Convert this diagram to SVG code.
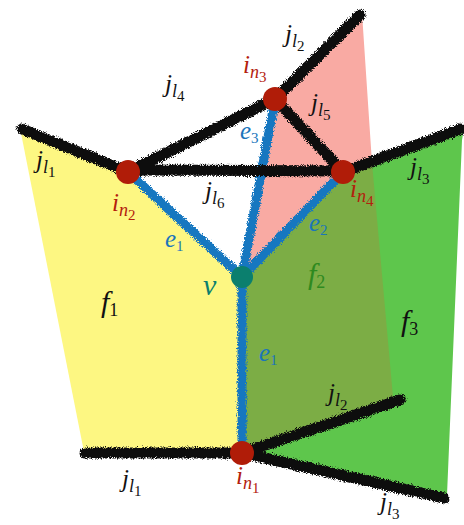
<svg xmlns="http://www.w3.org/2000/svg" width="464" height="525" viewBox="0 0 464 525">
<style>
.t{font-family:"Liberation Serif","DejaVu Serif",serif;font-style:italic;font-size:25px}
.big{font-size:30px}
.s1{font-size:18px}
.s2{font-size:15px;font-style:normal}
.d{font-style:normal}
.k{fill:#111}
.r{fill:#b3200d}
.b{fill:#1a75bb}
.g{fill:#2e8a1f}
.tl{fill:#0b7f6e}
.jl{stroke:#111;stroke-width:11;stroke-linecap:round;fill:none}
.el{stroke:#1677c0;stroke-width:9;stroke-linecap:round;fill:none}
</style>
<defs>
<filter id="rough" filterUnits="userSpaceOnUse" x="0" y="0" width="464" height="525">
<feTurbulence type="fractalNoise" baseFrequency="1.2" numOctaves="2" seed="4"/>
<feDisplacementMap in="SourceGraphic" scale="6" xChannelSelector="R" yChannelSelector="G"/>
</filter>
</defs>
<g id="faces">
<polygon id="f3-face" points="343,172 464,128 462,140 447,495 242,453" fill="#5ec64c"/>
<polygon id="f2-face" points="242,277 343,172 372,163 393,397 242,453" fill="#7cad45"/>
<polygon id="pink-face" points="275,99 362,13 372,163 343,172 242,277" fill="#f9aaa3"/>
<polygon id="f1-face" points="20,128 128,172 242,277 242,453 84,452" fill="#fdf782"/>
</g>
<g id="connectors" filter="url(#rough)">
<line class="el" x1="128" y1="172" x2="242" y2="277"/>
<line class="el" x1="275" y1="99" x2="242" y2="277"/>
<line class="el" x1="343" y1="172" x2="242" y2="277"/>
<line class="el" x1="242" y1="277" x2="242" y2="453"/>
<line class="jl" x1="22" y1="129" x2="128" y2="172"/>
<line class="jl" x1="128" y1="172" x2="275" y2="99"/>
<line class="jl" x1="275" y1="99" x2="360" y2="15"/>
<line class="jl" x1="275" y1="99" x2="343" y2="172"/>
<line class="jl" x1="128" y1="170" x2="343" y2="171"/>
<line class="jl" x1="343" y1="172" x2="461" y2="129"/>
<line class="jl" x1="85" y1="453" x2="242" y2="453"/>
<line class="jl" x1="242" y1="453" x2="400" y2="400"/>
<line class="jl" x1="242" y1="453" x2="444" y2="498"/>
</g>
<g id="n-in2"><circle cx="128" cy="172" r="12" fill="#b01c08"/><text class="t r" x="112" y="211">i<tspan class="s1" dy="5">n</tspan><tspan class="s2" dy="4">2</tspan></text></g>
<g id="n-in3"><circle cx="275" cy="99" r="12" fill="#b01c08"/><text class="t r" x="243" y="73">i<tspan class="s1" dy="5">n</tspan><tspan class="s2" dy="4">3</tspan></text></g>
<g id="n-in4"><circle cx="343" cy="172" r="12" fill="#b01c08"/><text class="t r" x="350" y="197">i<tspan class="s1" dy="5">n</tspan><tspan class="s2" dy="4">4</tspan></text></g>
<g id="n-in1"><circle cx="242" cy="453" r="12" fill="#b01c08"/><text class="t r" x="236" y="484">i<tspan class="s1" dy="5">n</tspan><tspan class="s2" dy="4">1</tspan></text></g>
<g id="n-v"><circle cx="242" cy="277" r="11" fill="#0b7f6e"/><text class="t big tl" x="203" y="295">v</text></g>
<g id="labels">
<text class="t k" x="165" y="92">j<tspan class="s1" dy="5">l</tspan><tspan class="s2" dy="4">4</tspan></text>
<text class="t k" x="285" y="42">j<tspan class="s1" dy="5">l</tspan><tspan class="s2" dy="4">2</tspan></text>
<text class="t k" x="311" y="111">j<tspan class="s1" dy="5">l</tspan><tspan class="s2" dy="4">5</tspan></text>
<text class="t k" x="36" y="168">j<tspan class="s1" dy="5">l</tspan><tspan class="s2" dy="4">1</tspan></text>
<text class="t k" x="205" y="199">j<tspan class="s1" dy="5">l</tspan><tspan class="s2" dy="4">6</tspan></text>
<text class="t k" x="410" y="175">j<tspan class="s1" dy="5">l</tspan><tspan class="s2" dy="4">3</tspan></text>
<text class="t k" x="328" y="401">j<tspan class="s1" dy="5">l</tspan><tspan class="s2" dy="4">2</tspan></text>
<text class="t k" x="122" y="487">j<tspan class="s1" dy="5">l</tspan><tspan class="s2" dy="4">1</tspan></text>
<text class="t k" x="380" y="510">j<tspan class="s1" dy="5">l</tspan><tspan class="s2" dy="4">3</tspan></text>
<text class="t b" x="165" y="247">e<tspan class="s2" dy="4">1</tspan></text>
<text class="t b" x="240" y="139">e<tspan class="s2" dy="4">3</tspan></text>
<text class="t b" x="309" y="231">e<tspan class="s2" dy="4">2</tspan></text>
<text class="t b" x="259" y="361">e<tspan class="s2" dy="4">1</tspan></text>
<text class="t big k" x="101" y="312">f<tspan class="s1 d" dy="4">1</tspan></text>
<text class="t big g" x="308" y="284">f<tspan class="s1 d" dy="4">2</tspan></text>
<text class="t big k" x="401" y="331">f<tspan class="s1 d" dy="4">3</tspan></text>
</g>
</svg>
